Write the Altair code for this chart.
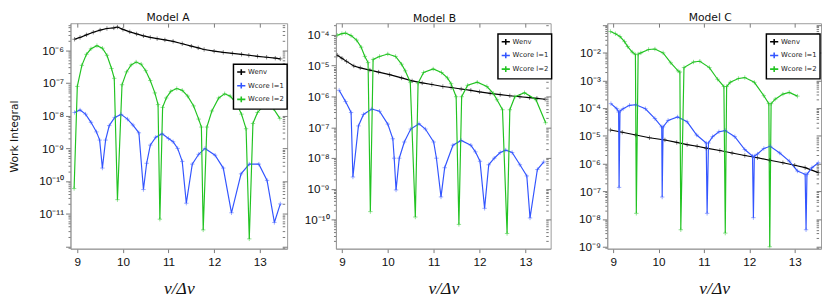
import altair as alt
import pandas as pd

SERIES = ["Wenv", "Wcore l=1", "Wcore l=2"]
COLORS = ["#000000", "#3355ff", "#22c322"]

# ---------------- Model A ----------------
A_env_x = [8.94, 9.06, 9.2, 9.35, 9.5, 9.65, 9.8, 9.88, 10.0, 10.15, 10.3, 10.45, 10.6, 10.75,
           10.92, 11.1, 11.3, 11.5, 11.65, 11.78, 12.0, 12.2, 12.4, 12.6, 12.76, 12.95, 13.15, 13.34, 13.45]
A_env_y = [2.2e-6, 2.5e-6, 3.0e-6, 3.6e-6, 4.2e-6, 4.7e-6, 4.9e-6, 5.2e-6, 4.4e-6, 3.7e-6, 3.2e-6, 2.8e-6,
           2.5e-6, 2.3e-6, 2.1e-6, 1.9e-6, 1.6e-6, 1.35e-6, 1.2e-6, 1.07e-6, 9.5e-7, 8.7e-7, 8.1e-7, 7.6e-7,
           7.1e-7, 6.6e-7, 6.2e-7, 5.8e-7, 5.5e-7]
A_l1_x = [8.94, 9.06, 9.18, 9.3, 9.42, 9.49, 9.55, 9.62, 9.7, 9.82, 9.96, 10.1, 10.22, 10.35, 10.45,
          10.52, 10.6, 10.72, 10.86, 11.0, 11.1, 11.2, 11.3, 11.39, 11.52, 11.66, 11.8, 12.02, 12.2,
          12.38, 12.59, 12.77, 12.98, 13.16, 13.32, 13.45]
A_l1_y = [1.26e-8, 1.5e-8, 1.12e-8, 6.3e-9, 3.2e-9, 1.8e-9, 2.5e-10, 1.8e-9, 5.0e-9, 8.9e-9, 1.1e-8,
          7.9e-9, 5.2e-9, 3.0e-9, 5.5e-11, 3.5e-10, 1.26e-9, 2.2e-9, 2.8e-9, 2.0e-9, 1.6e-9, 1.0e-9,
          4.0e-10, 2.1e-11, 3.3e-10, 6.6e-10, 1.0e-9, 6.2e-10, 2.5e-10, 1.07e-11, 1.66e-10, 3.3e-10,
          3.3e-10, 1.05e-10, 5.4e-12, 2.0e-11]
A_l2_x = [8.93, 9.0, 9.1, 9.2, 9.3, 9.43, 9.55, 9.65, 9.75, 9.81, 9.88, 9.98, 10.08, 10.18, 10.29,
          10.4, 10.5, 10.6, 10.7, 10.77, 10.81, 10.87, 10.95, 11.05, 11.18, 11.3, 11.42, 11.55, 11.66,
          11.72, 11.76, 11.84, 11.95, 12.1, 12.23, 12.35, 12.48, 12.6, 12.7, 12.77, 12.85, 12.95,
          13.07, 13.19, 13.3, 13.44]
A_l2_y = [5.9e-11, 7.9e-8, 3.5e-7, 7.6e-7, 1.12e-6, 1.4e-6, 1.17e-6, 7.1e-7, 2.8e-7, 1.4e-7, 2.7e-11,
          8.9e-8, 2.2e-7, 3.6e-7, 4.4e-7, 3.8e-7, 2.4e-7, 1.2e-7, 5.0e-8, 2.2e-8, 6.8e-12, 1.8e-8,
          3.5e-8, 5.6e-8, 6.8e-8, 6.0e-8, 4.0e-8, 2.0e-8, 7.9e-9, 4.5e-9, 3.2e-12, 4.5e-9, 1.4e-8,
          3.5e-8, 4.7e-8, 4.0e-8, 2.5e-8, 1.12e-8, 4.0e-9, 1.7e-12, 5.8e-9, 1.26e-8, 1.9e-8, 2.1e-8,
          1.66e-8, 8.3e-9]

# ---------------- Model B ----------------
B_env_x = [8.9, 9.0, 9.1, 9.26, 9.4, 9.61, 9.8, 10.04, 10.3, 10.53, 10.75, 10.96, 11.2, 11.38, 11.6,
           11.81, 12.0, 12.23, 12.45, 12.66, 12.88, 13.09, 13.25, 13.43]
B_env_y = [2.2e-5, 1.74e-5, 1.38e-5, 9.8e-6, 8.5e-6, 7.2e-6, 6.2e-6, 5.1e-6, 4.0e-6, 3.2e-6, 2.75e-6,
           2.45e-6, 2.1e-6, 1.95e-6, 1.74e-6, 1.58e-6, 1.41e-6, 1.26e-6, 1.15e-6, 1.05e-6, 9.8e-7,
           9.1e-7, 8.7e-7, 8.1e-7]
B_l1_x = [8.94, 9.08, 9.2, 9.24, 9.36, 9.47, 9.65, 9.82, 10.0, 10.11, 10.14, 10.18, 10.25, 10.36,
          10.5, 10.68, 10.82, 11.0, 11.06, 11.16, 11.24, 11.42, 11.6, 11.81, 11.91, 12.01, 12.11,
          12.2, 12.32, 12.45, 12.57, 12.71, 12.88, 13.03, 13.1, 13.26, 13.4]
B_l1_y = [1.58e-6, 6.8e-7, 3.0e-7, 2.4e-9, 1.1e-7, 2.6e-7, 3.9e-7, 3.3e-7, 1.26e-7, 4.2e-8, 9.8e-9,
          9.1e-10, 9.8e-9, 3.3e-8, 8.7e-8, 1.3e-7, 8.7e-8, 3.3e-8, 9.8e-9, 5.4e-10, 4.8e-9, 2.6e-8,
          3.7e-8, 2.6e-8, 1.58e-8, 7.8e-9, 2.3e-10, 6.0e-9, 9.8e-9, 1.5e-8, 1.8e-8, 1.5e-8, 6.0e-9,
          2.6e-9, 1.12e-10, 4.2e-9, 7.4e-9]
B_l2_x = [8.9, 9.0, 9.08, 9.2, 9.32, 9.42, 9.5, 9.57, 9.62, 9.68, 9.82, 10.0, 10.17, 10.3, 10.38,
          10.49, 10.6, 10.66, 10.78, 10.99, 11.17, 11.3, 11.38, 11.49, 11.55, 11.61, 11.74, 11.95,
          12.16, 12.3, 12.38, 12.5, 12.6, 12.66, 12.77, 12.98, 13.23, 13.44]
B_l2_y = [9.8e-5, 1.1e-4, 1.15e-4, 9.5e-5, 6.8e-5, 4.0e-5, 2.0e-5, 1.26e-5, 1.8e-10, 1.6e-5, 2.0e-5,
          2.4e-5, 2.0e-5, 1.12e-5, 6.8e-6, 2.9e-6, 1.2e-10, 2.7e-6, 6.0e-6, 7.8e-6, 6.0e-6, 4.0e-6,
          2.6e-6, 9.8e-7, 6.9e-11, 9.8e-7, 2.3e-6, 2.9e-6, 2.1e-6, 1.26e-6, 7.8e-7, 3.7e-7, 3.5e-11,
          3.7e-7, 9.8e-7, 1.32e-6, 7.8e-7, 1.4e-7]

# ---------------- Model C ----------------
C_env_x = [8.94, 9.2, 9.5, 9.8, 10.14, 10.4, 10.63, 10.85, 11.05, 11.35, 11.62, 11.9, 12.18, 12.45,
           12.74, 13.0, 13.23, 13.52]
C_env_y = [1.62e-5, 1.35e-5, 1.07e-5, 8.5e-6, 7.1e-6, 5.8e-6, 4.8e-6, 4.2e-6, 3.6e-6, 2.95e-6, 2.4e-6,
           1.95e-6, 1.62e-6, 1.32e-6, 1.07e-6, 8.7e-7, 7.1e-7, 4.7e-7]
C_l1_x = [8.95, 9.08, 9.12, 9.13, 9.15, 9.22, 9.36, 9.5, 9.71, 9.92, 10.07, 10.08, 10.1, 10.21, 10.42,
          10.63, 10.84, 11.05, 11.07, 11.1, 11.19, 11.33, 11.47, 11.68, 11.9, 12.07, 12.09, 12.11,
          12.18, 12.32, 12.46, 12.67, 12.88, 13.06, 13.23, 13.25, 13.27, 13.38, 13.52]
C_l1_y = [1.45e-4, 9.5e-5, 7.2e-5, 1.38e-7, 7.9e-5, 9.5e-5, 1.26e-4, 1.32e-4, 9.5e-5, 4.2e-5, 2.1e-5,
          6.2e-8, 2.1e-5, 3.6e-5, 4.8e-5, 3.2e-5, 1.07e-5, 5.5e-6, 1.6e-8, 5.5e-6, 9.3e-6, 1.4e-5,
          1.55e-5, 9.3e-6, 3.2e-6, 1.86e-6, 1.12e-8, 1.86e-6, 2.2e-6, 3.5e-6, 4.2e-6, 2.4e-6, 1.23e-6,
          5.4e-7, 4.1e-7, 4.1e-9, 4.1e-7, 7.1e-7, 1.07e-6]
C_l2_x = [8.94, 9.05, 9.15, 9.25, 9.32, 9.42, 9.49, 9.51, 9.55, 9.61, 9.78, 9.92, 10.1, 10.27, 10.43,
          10.47, 10.49, 10.56, 10.77, 10.91, 11.12, 11.3, 11.44, 11.47, 11.5, 11.58, 11.76, 11.9,
          12.11, 12.32, 12.43, 12.45, 12.48, 12.57, 12.74, 12.88, 13.06]
C_l2_y = [5.8e-2, 4.8e-2, 3.8e-2, 2.5e-2, 1.66e-2, 1.05e-2, 8.5e-3, 1.6e-8, 8.9e-3, 9.8e-3, 1.3e-2,
          1.35e-2, 9.8e-3, 4.3e-3, 2.2e-3, 2.0e-3, 4.1e-9, 2.9e-3, 4.6e-3, 4.9e-3, 2.9e-3, 1.1e-3,
          6.0e-4, 3.1e-9, 6.0e-4, 8.5e-4, 1.17e-3, 1.26e-3, 8.5e-4, 2.8e-4, 1.45e-4, 1.0e-9, 1.45e-4,
          2.1e-4, 3.2e-4, 3.7e-4, 2.7e-4]

X_TICKS = [9, 10, 11, 12, 13]

SUP = str.maketrans("0123456789-", "⁰¹²³⁴⁵⁶⁷⁸⁹⁻")
LBL_ARR = "[" + ",".join("'10" + str(-k).translate(SUP) + "'" for k in range(0, 16)) + "]"
EXP = "round(log(datum.value)/LN10)"
IS_DEC = f"abs(log(datum.value)/LN10 - {EXP}) < 0.01"


def label_expr(lo_exp, hi_exp):
    return (f"{IS_DEC} && {EXP} >= {lo_exp} && {EXP} <= {hi_exp} ? "
            f"{LBL_ARR}[-{EXP}] : ''")


def log_ticks(lo, hi):
    vals = []
    for e in range(-16, 2):
        for m in range(1, 10):
            v = float(f"{m}e{e}")
            if lo <= v <= hi:
                vals.append(v)
    return vals


def frame(parts):
    rows = []
    for name, xs, ys in parts:
        for x, y in zip(xs, ys):
            rows.append({"nu": x, "W": y, "series": name})
    return pd.DataFrame(rows)


AX_GRAY = "#9a9a9a"
MARK_PATH = "M-1,0H1M0,-1V1"


def panel(df, title, dx, width, xdom, ydom, lab_range, yext, legx, legy, ytitle):
    xs = alt.Scale(domain=xdom, nice=False, zero=False)
    ys = alt.Scale(type="log", domain=ydom, nice=False)
    yt = log_ticks(ydom[0], ydom[1])
    tick_cond = {"condition": {"test": IS_DEC, "value": 5}, "value": 2.5}

    x_main = alt.X("nu:Q", scale=xs,
                   axis=alt.Axis(values=X_TICKS, format="d", title="ν/Δν",
                                 titleFont="Liberation Serif", titleFontStyle="italic",
                                 titleFontSize=18, titleFontWeight="normal", titlePadding=13,
                                 labelFontSize=12, labelPadding=4, tickSize=4,
                                 domainColor=AX_GRAY, tickColor="#777", labelColor="#111",
                                 titleColor="#111", grid=False))
    y_axis = dict(values=yt, labelExpr=label_expr(*lab_range), tickSize=tick_cond,
                  labelFontSize=12, labelPadding=2, domainColor=AX_GRAY, tickColor="#777",
                  labelColor="#111", grid=False, minExtent=yext, maxExtent=yext,
                  labelOverlap=False, labelFlush=False)
    if ytitle:
        y_axis.update(title=ytitle, titleFontSize=11, titleFontWeight="normal",
                      titleFont="DejaVu Sans", titlePadding=3, titleColor="#111")
    else:
        y_axis.update(title=None)
    y_main = alt.Y("W:Q", scale=ys, axis=alt.Axis(**y_axis))

    color = alt.Color("series:N", scale=alt.Scale(domain=SERIES, range=COLORS),
                      legend=alt.Legend(title=None, orient="none", legendX=legx, legendY=legy,
                                        fillColor="white", strokeColor="black", padding=3,
                                        labelFontSize=7, labelFont="DejaVu Sans", labelColor="#222",
                                        symbolType="M-1,0H1M0,-0.7V0.7", symbolSize=70,
                                        symbolStrokeWidth=1.6, rowPadding=0, labelOffset=2,
                                        labelLimit=80))
    color_nl = alt.Color("series:N", scale=alt.Scale(domain=SERIES, range=COLORS), legend=None)

    lines = alt.Chart(df).mark_line(strokeWidth=1.2, clip=True).encode(
        x=x_main, y=y_main, color=color)
    pts = alt.Chart(df).mark_point(shape=MARK_PATH, filled=False, size=20, strokeWidth=0.9,
                                   opacity=0.55, clip=True).encode(
        x=alt.X("nu:Q", scale=xs,
                axis=alt.Axis(orient="top", values=X_TICKS, labels=False, title=None,
                              domain=False, offset=-4, tickSize=4, tickColor="#777",
                              grid=False, minExtent=0, maxExtent=0)),
        y=alt.Y("W:Q", scale=ys,
                axis=alt.Axis(orient="right", values=yt, labels=False, title=None,
                              domain=False, offset=-5, tickSize=tick_cond, tickColor="#777",
                              grid=False, minExtent=0, maxExtent=0)),
        color=color_nl)

    return alt.layer(lines, pts).resolve_axis(x="independent", y="independent").properties(
        width=width, height=231,
        title=alt.TitleParams(title, fontSize=11, font="DejaVu Sans", fontWeight="normal",
                              color="#111", offset=-4, frame="group", dx=dx))


dfA = frame([("Wenv", A_env_x, A_env_y), ("Wcore l=1", A_l1_x, A_l1_y), ("Wcore l=2", A_l2_x, A_l2_y)])
dfB = frame([("Wenv", B_env_x, B_env_y), ("Wcore l=1", B_l1_x, B_l1_y), ("Wcore l=2", B_l2_x, B_l2_y)])
dfC = frame([("Wenv", C_env_x, C_env_y), ("Wcore l=1", C_l1_x, C_l1_y), ("Wcore l=2", C_l2_x, C_l2_y)])

pA = panel(dfA, "Model A", -11, 222, [8.85, 13.6], [8.5e-13, 6.8e-6], (-11, -6), 49, 167, 42, "Work Integral")
pB = panel(dfB, "Model B", -9, 220, [8.87, 13.55], [1.12e-11, 2.4e-4], (-10, -4), 43, 166, 11, None)
pC = panel(dfC, "Model C", -4, 219, [8.87, 13.58], [8.5e-10, 0.115], (-9, -2), 50, 163, 11, None)

chart = alt.hconcat(pA, pB, pC, spacing=4).resolve_scale(
    color="independent", x="independent", y="independent").properties(padding=0).configure_view(
    stroke=AX_GRAY, strokeWidth=1).configure_legend(strokeWidth=1.5)

chart.save("out.html", embed_options={"renderer": "svg", "actions": False})
